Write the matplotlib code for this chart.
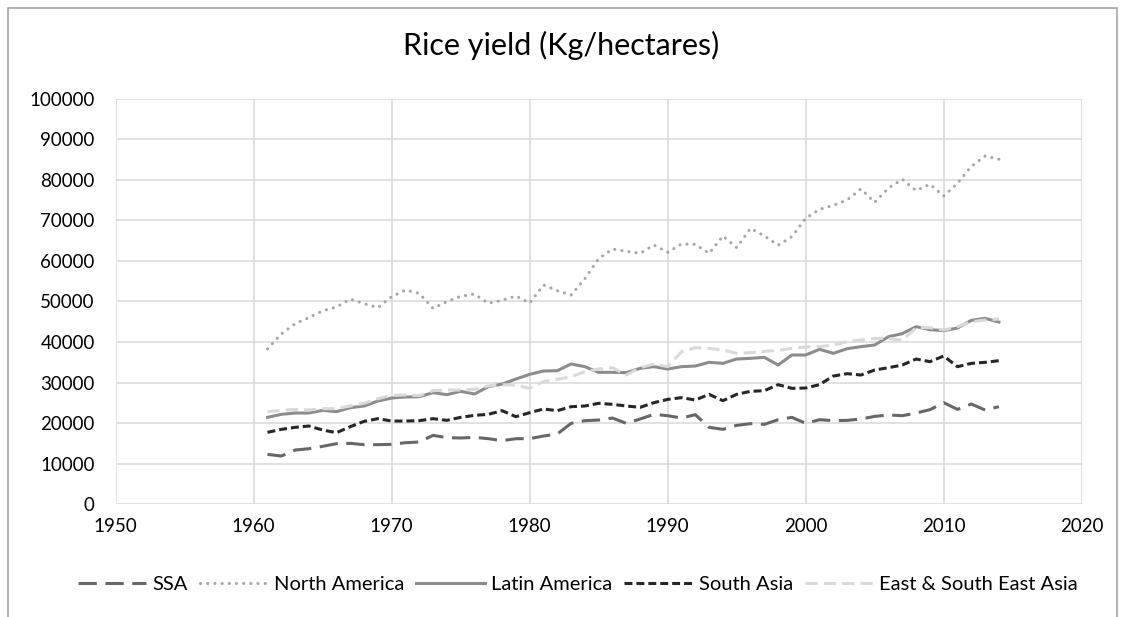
import matplotlib.pyplot as plt
import matplotlib.lines as mlines
import numpy as np

plt.rcParams['font.family'] = ['Lato', 'DejaVu Sans']

years = list(range(1961, 2015))

ssa = [12260, 11850, 13330, 13660, 14240, 14900, 14980, 14650, 14650, 14730,
       15140, 15310, 16950, 16380, 16300, 16460, 16130, 15640, 16130, 16130,
       16790, 17280, 19920, 20580, 20740, 21230, 19900, 20990, 22140, 21810,
       21230, 22060, 18930, 18440, 19420, 19840, 19670, 20820, 21400, 19920,
       20820, 20580, 20660, 20990, 21640, 21980, 21810, 22470, 23290, 25020,
       23370, 24690, 23210, 24030]

north_america = [38270, 41980, 44520, 46000, 47700, 48640, 50600, 49460, 48480, 51190,
                 52840, 52010, 48300, 49960, 51270, 51850, 49550, 50280, 51360, 49630,
                 54070, 52670, 51600, 55640, 60580, 62960, 62390, 61890, 63950, 62140,
                 64200, 64110, 61890, 66170, 63290, 68060, 66200, 63900, 66000, 70530,
                 72760, 73740, 75060, 77780, 74480, 78000, 80160, 77370, 78930, 76050,
                 79170, 83370, 85930, 85100]

latin_america = [21400, 22140, 22470, 22470, 23130, 22800, 23790, 24200, 25430, 26170,
                 26420, 26500, 27490, 27000, 27820, 27160, 28970, 29600, 30860, 32020,
                 32840, 32920, 34570, 33910, 32510, 32510, 32430, 33500, 33910, 33330,
                 33910, 34070, 34980, 34730, 35800, 35970, 36210, 34320, 36790, 36790,
                 38190, 37200, 38350, 38850, 39260, 41320, 42060, 43790, 43050, 42800,
                 43460, 45350, 45840, 44940]

south_asia = [17700, 18430, 18930, 19260, 18270, 17610, 19100, 20410, 21070, 20490,
              20490, 20580, 21070, 20660, 21400, 21890, 22140, 23050, 21560, 22550,
              23460, 23050, 24030, 24200, 24860, 24610, 24200, 23870, 25020, 25840,
              26260, 25680, 27080, 25510, 27080, 27820, 27980, 29470, 28560, 28640,
              29470, 31600, 32180, 31850, 33090, 33660, 34320, 35800, 35140, 36540,
              33910, 34730, 34980, 35390]

east_se_asia = [22800, 23130, 23370, 23210, 23540, 23540, 24200, 24860, 26010, 26830,
                26910, 26750, 27980, 28150, 28150, 28310, 29140, 29460, 29380, 28560,
                30210, 30780, 31440, 32680, 33330, 33660, 31850, 33660, 34570, 33910,
                37620, 38600, 38430, 38020, 37200, 37370, 37700, 37940, 38430, 38770,
                38850, 39260, 40080, 40490, 40900, 40900, 40400, 43540, 43540, 42960,
                43790, 45020, 45430, 45680]

series = [
    ('SSA', ssa, '#676767', (0, (6, 2.8))),
    ('North America', north_america, '#a6a6a6', (0, (0.05, 2.3))),
    ('Latin America', latin_america, '#8c8c8c', '-'),
    ('South Asia', south_asia, '#262626', (0, (2.6, 1.3))),
    ('East & South East Asia', east_se_asia, '#d9d9d9', (0, (4, 2))),
]

fig = plt.figure(figsize=(11.22, 6.17), dpi=100)
ax = fig.add_axes([0.1031, 0.1831, 0.861, 0.6565])

handles = []
for name, vals, col, ls in series:
    cap = 'round' if name == 'North America' else 'butt'
    ax.plot(years, vals, color=col, linestyle=ls, linewidth=2.2,
            dash_capstyle=cap, solid_joinstyle='round')
    handles.append(mlines.Line2D([], [], color=col, linestyle=ls, linewidth=2.2,
                                 dash_capstyle=cap))

ax.set_xlim(1950, 2020)
ax.set_ylim(0, 100000)
ax.set_xticks(np.arange(1950, 2021, 10))
ax.set_yticks(np.arange(0, 100001, 10000))
ax.grid(True, color='#d9d9d9', linewidth=1.1)
ax.set_axisbelow(True)
for s in ax.spines.values():
    s.set_visible(False)
ax.tick_params(length=0, labelsize=13.5, labelcolor='#000000')
ax.tick_params(axis='y', pad=15)
ax.tick_params(axis='x', pad=10)

fig.text(0.5, 0.927, 'Rice yield (Kg/hectares)', ha='center', va='center',
         fontsize=22, color='#000000')

fig.legend(handles, [s[0] for s in series], loc='center', bbox_to_anchor=(0.515, 0.053),
           ncol=5, frameon=False, fontsize=14.5, handlelength=3.4,
           columnspacing=0.6, handletextpad=0.3)

# chart border (bottom edge falls outside the image)
fig.patches.append(plt.Rectangle((8 / 1122, -0.1), 1109 / 1122, 1 - 8 / 617 + 0.1,
                                 transform=fig.transFigure, fill=False,
                                 edgecolor='#a6a6a6', linewidth=1.2))

fig.savefig('out.png', dpi=100)
